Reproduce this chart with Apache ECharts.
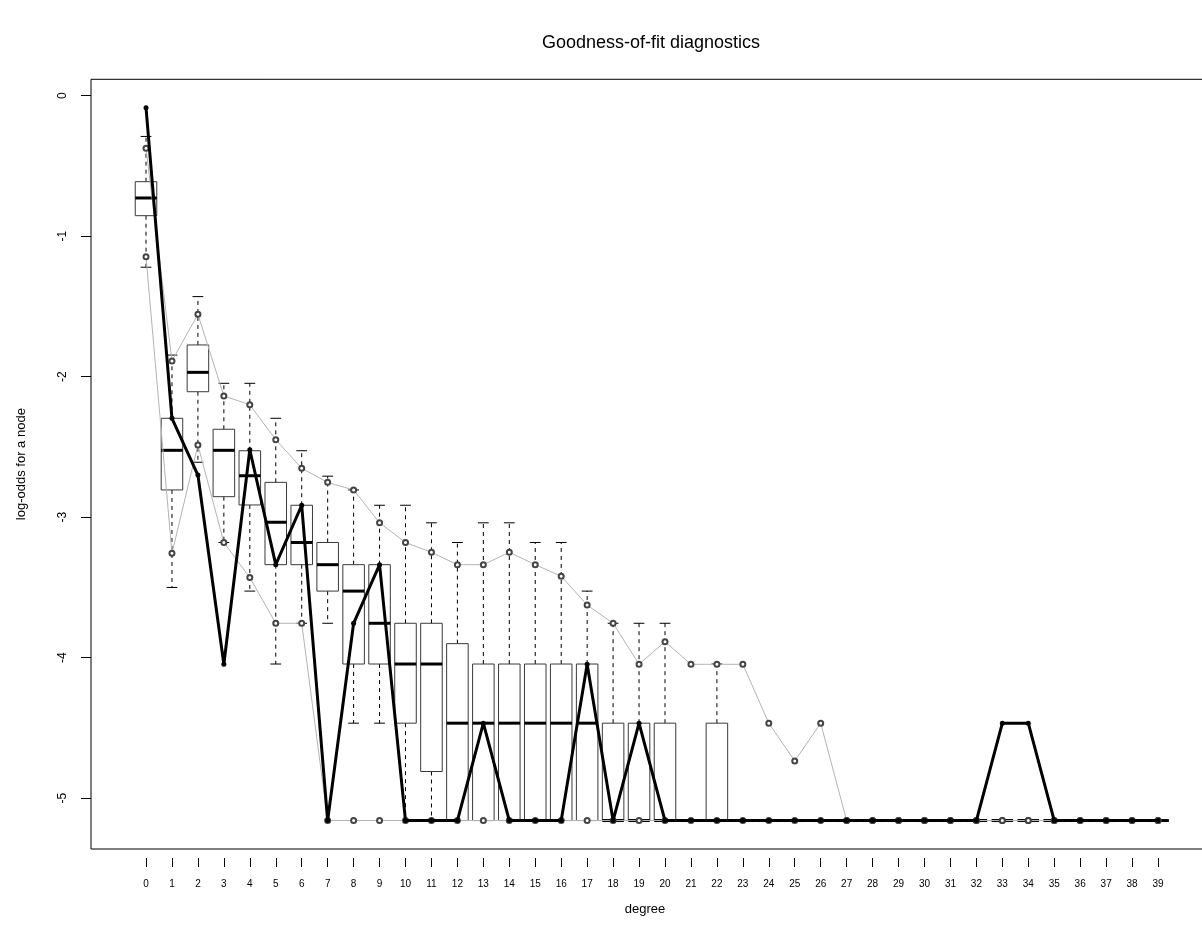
<!DOCTYPE html>
<html>
<head>
<meta charset="utf-8">
<script src="https://cdn.jsdelivr.net/npm/echarts@6/dist/echarts.min.js"></script>
<style>
  html, body { margin: 0; padding: 0; background: #fff; }
  #chart { width: 1202px; height: 932px; }
</style>
</head>
<body>
<div id="chart"></div>
<script>
// Degree categories (x positions)
const degrees = [0, 1, 2, 3, 4, 5, 6, 7, 8, 9, 10, 11, 12, 13, 14, 15, 16, 17, 18, 19,
  20, 21, 22, 23, 24, 25, 26, 27, 28, 29, 30, 31, 32, 33, 34, 35, 36, 37, 38, 39];

// Observed network log-odds (thick black line)
const observed = [-0.085, -2.296, -2.70, -4.047, -2.52, -3.338, -2.915, -5.159, -3.755, -3.338,
  -5.159, -5.159, -5.159, -4.466, -5.159, -5.159, -5.159, -4.047, -5.159, -4.466,
  -5.159, -5.159, -5.159, -5.159, -5.159, -5.159, -5.159, -5.159, -5.159, -5.159,
  -5.159, -5.159, -5.159, -4.466, -4.466, -5.159, -5.159, -5.159, -5.159, -5.159];

// Simulated upper / lower quantile bounds (thin grey lines)
const upperBound = [-0.374, -1.888, -1.556, -2.137, -2.20, -2.448, -2.652, -2.752, -2.806, -3.04,
  -3.18, -3.25, -3.338, -3.338, -3.25, -3.338, -3.42, -3.625, -3.755, -4.047,
  -3.886, -4.047, -4.047, -4.047, -4.466, -4.735, -4.466, -5.159, -5.159, -5.159,
  -5.159, -5.159, -5.159, -5.159, -5.159, -5.159, -5.159, -5.159, -5.159, -5.159];
const lowerBound = [-1.146, -3.257, -2.486, -3.18, -3.43, -3.755, -3.755, -5.159, -5.159, -5.159,
  -5.159, -5.159, -5.159, -5.159, -5.159, -5.159, -5.159, -5.159, -5.159, -5.159,
  -5.159, -5.159, -5.159, -5.159, -5.159, -5.159, -5.159, -5.159, -5.159, -5.159,
  -5.159, -5.159, -5.159, -5.159, -5.159, -5.159, -5.159, -5.159, -5.159, -5.159];

// Boxplot summaries of the simulated networks
const whiskerLow = [-1.221, -3.50, -2.609, -3.18, -3.526, -4.045, -3.755, -3.755, -4.466, -4.466,
  -5.159, -5.159, -5.159, -5.159, -5.159, -5.159, -5.159, -5.159, -5.159, -5.159,
  -5.159, -5.159, -5.159, -5.159, -5.159, -5.159, -5.159, -5.159, -5.159, -5.159,
  -5.159, -5.159, -5.159, -5.159, -5.159, -5.159, -5.159, -5.159, -5.159, -5.159];
const boxQ1 = [-0.854, -2.806, -2.107, -2.854, -2.913, -3.338, -3.338, -3.526, -4.045, -4.045,
  -4.466, -4.81, -5.159, -5.159, -5.159, -5.159, -5.159, -5.159, -5.159, -5.159,
  -5.159, -5.159, -5.159, -5.159, -5.159, -5.159, -5.159, -5.159, -5.159, -5.159,
  -5.159, -5.159, -5.159, -5.159, -5.159, -5.159, -5.159, -5.159, -5.159, -5.159];
const boxMedian = [-0.728, -2.524, -1.969, -2.524, -2.705, -3.036, -3.18, -3.338, -3.526, -3.755,
  -4.045, -4.045, -4.466, -4.466, -4.466, -4.466, -4.466, -4.466, -5.159, -5.159,
  -5.159, -5.159, -5.159, -5.159, -5.159, -5.159, -5.159, -5.159, -5.159, -5.159,
  -5.159, -5.159, -5.159, -5.159, -5.159, -5.159, -5.159, -5.159, -5.159, -5.159];
const boxQ3 = [-0.612, -2.296, -1.774, -2.374, -2.527, -2.752, -2.915, -3.18, -3.338, -3.338,
  -3.755, -3.755, -3.90, -4.045, -4.045, -4.045, -4.045, -4.045, -4.466, -4.466,
  -4.466, -5.159, -4.466, -5.159, -5.159, -5.159, -5.159, -5.159, -5.159, -5.159,
  -5.159, -5.159, -5.159, -5.159, -5.159, -5.159, -5.159, -5.159, -5.159, -5.159];
const whiskerHigh = [-0.29, -1.846, -1.43, -2.047, -2.047, -2.296, -2.527, -2.708, -2.806, -2.915,
  -2.915, -3.04, -3.18, -3.04, -3.04, -3.18, -3.18, -3.526, -3.755, -3.755,
  -3.755, -5.159, -4.045, -5.159, -5.159, -5.159, -5.159, -5.159, -5.159, -5.159,
  -5.159, -5.159, -5.159, -5.159, -5.159, -5.159, -5.159, -5.159, -5.159, -5.159];

// Axis tick values
const yTicks = [-5, -4, -3, -2, -1, 0];
const xTicks = degrees;

const boxData = degrees.map((d, i) => [d, whiskerLow[i], boxQ1[i], boxMedian[i], boxQ3[i], whiskerHigh[i]]);
const pairs = arr => degrees.map((d, i) => [d, arr[i]]);

function renderBox(params, api) {
  const d = api.value(0);
  const x = api.coord([d, 0])[0];
  const yLo = api.coord([d, api.value(1)])[1];
  const yQ1 = api.coord([d, api.value(2)])[1];
  const yMed = api.coord([d, api.value(3)])[1];
  const yQ3 = api.coord([d, api.value(4)])[1];
  const yHi = api.coord([d, api.value(5)])[1];
  const unit = api.size([1, 0])[0];
  const half = unit * 0.415;
  const cap = half * 0.5;
  const dash = { stroke: '#000', lineWidth: 1, lineDash: [4, 4] };
  const solid = { stroke: '#000', lineWidth: 1 };
  return {
    type: 'group',
    children: [
      { type: 'line', shape: { x1: x, y1: yQ3, x2: x, y2: yHi }, style: dash },
      { type: 'line', shape: { x1: x, y1: yQ1, x2: x, y2: yLo }, style: dash },
      { type: 'line', shape: { x1: x - cap, y1: yHi, x2: x + cap, y2: yHi }, style: solid },
      { type: 'line', shape: { x1: x - cap, y1: yLo, x2: x + cap, y2: yLo }, style: solid },
      { type: 'rect', shape: { x: x - half, y: yQ3, width: half * 2, height: yQ1 - yQ3 },
        style: { fill: 'none', stroke: '#3a3a3a', lineWidth: 1 } },
      { type: 'line', shape: { x1: x - half, y1: yMed, x2: x + half, y2: yMed },
        style: { stroke: '#000', lineWidth: 3 } }
    ]
  };
}

const chart = echarts.init(document.getElementById('chart'), null, { renderer: 'canvas' });

const font = 'Liberation Sans, Arial, sans-serif';

chart.setOption({
  backgroundColor: '#fff',
  animation: false,
  title: {
    text: 'Goodness-of-fit diagnostics',
    left: 646,
    top: 29,
    textAlign: 'center',
    textStyle: { fontFamily: font, fontSize: 18, fontWeight: 'normal', color: '#000' }
  },
  grid: {
    left: 91,
    top: 79.3,
    width: 1114,
    height: 769.7,
    outerBoundsMode: 'none',
    show: true,
    borderColor: '#000',
    borderWidth: 1,
    backgroundColor: 'transparent'
  },
  xAxis: {
    type: 'value',
    min: -2.12,
    max: 40.81,
    offset: 9,
    name: 'degree',
    nameLocation: 'middle',
    nameGap: 45,
    nameTextStyle: { fontFamily: font, fontSize: 13, color: '#000', padding: [0, 6, 0, 0] },
    axisLine: { show: false, onZero: false },
    splitLine: { show: false },
    axisTick: { show: true, length: 9, customValues: xTicks, lineStyle: { color: '#000' } },
    axisLabel: { customValues: xTicks, margin: 21, fontFamily: font, fontSize: 10, color: '#000' }
  },
  yAxis: {
    type: 'value',
    min: -5.3616,
    max: 0.1167,
    name: 'log-odds for a node',
    nameLocation: 'middle',
    nameGap: 63,
    nameTextStyle: { fontFamily: font, fontSize: 13, color: '#000' },
    axisLine: { show: false, onZero: false },
    splitLine: { show: false },
    axisTick: { show: true, length: 10, customValues: yTicks, lineStyle: { color: '#000' } },
    axisLabel: { customValues: yTicks, rotate: 90, margin: 22, fontFamily: font, fontSize: 12, color: '#000' }
  },
  series: [
    {
      name: 'simulated',
      type: 'custom',
      renderItem: renderBox,
      data: boxData,
      encode: { x: 0, y: [1, 2, 3, 4, 5] },
      z: 1
    },
    {
      name: 'upper',
      type: 'line',
      data: pairs(upperBound),
      lineStyle: { color: '#b4b4b4', width: 1 },
      symbol: 'emptyCircle',
      symbolSize: 5,
      itemStyle: { color: '#444', borderWidth: 0.7 },
      z: 2
    },
    {
      name: 'lower',
      type: 'line',
      data: pairs(lowerBound),
      lineStyle: { color: '#b4b4b4', width: 1 },
      symbol: 'emptyCircle',
      symbolSize: 5,
      itemStyle: { color: '#444', borderWidth: 0.7 },
      z: 2
    },
    {
      name: 'observed',
      type: 'line',
      data: pairs(observed),
      lineStyle: { color: '#000', width: 3 },
      symbol: 'circle',
      symbolSize: 5,
      itemStyle: { color: '#000' },
      z: 3
    }
  ]
});
</script>
</body>
</html>
